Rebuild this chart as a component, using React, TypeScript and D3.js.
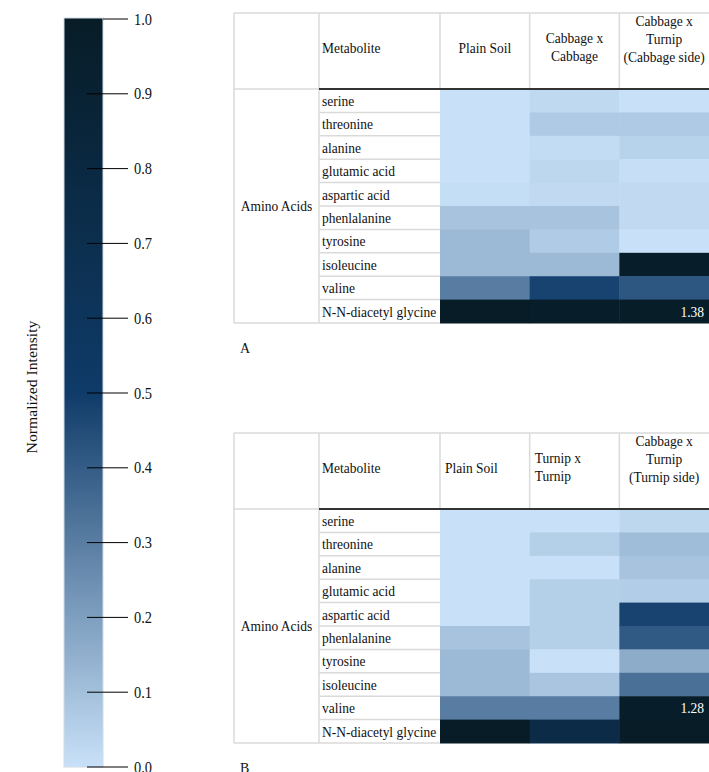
import React from 'react';
import * as d3 from 'd3';

// ---------- data ----------
const metabolites = [
  'serine', 'threonine', 'alanine', 'glutamic acid', 'aspartic acid',
  'phenlalanine', 'tyrosine', 'isoleucine', 'valine', 'N-N-diacetyl glycine',
];
const groupLabel = 'Amino Acids';
const metaboliteHeader = 'Metabolite';

const columnsA = ['Plain Soil', 'Cabbage x Cabbage', 'Cabbage x Turnip (Cabbage side)'];
const headerLinesA = [['Plain Soil'], ['Cabbage x', 'Cabbage'], ['Cabbage x', 'Turnip', '(Cabbage side)']];
const headerAlignA = ['middle', 'middle', 'middle'];
const plainSoilA = [0.0, 0.0, 0.0, 0.0, 0.01, 0.09, 0.12, 0.12, 0.30, 1.0];
const cabbageCabbageA = [0.025, 0.07, 0.015, 0.03, 0.02, 0.09, 0.065, 0.12, 0.475, 0.98];
const cabbageTurnipCabbageSideA = [0.0, 0.07, 0.045, 0.005, 0.02, 0.02, 0.0, 0.97, 0.42, 0.99];
const annotationsA = [{ col: 2, row: 9, text: '1.38' }];

const columnsB = ['Plain Soil', 'Turnip x Turnip', 'Cabbage x Turnip (Turnip side)'];
const headerLinesB = [['Plain Soil'], ['Turnip x', 'Turnip'], ['Cabbage x', 'Turnip', '(Turnip side)']];
const headerAlignB = ['start', 'start', 'middle'];
const plainSoilB = [0.0, 0.0, 0.0, 0.0, 0.0, 0.09, 0.12, 0.12, 0.30, 1.0];
const turnipTurnipB = [0.0, 0.055, 0.0, 0.055, 0.055, 0.055, 0.0, 0.085, 0.30, 0.76];
const cabbageTurnipTurnipSideB = [0.03, 0.11, 0.09, 0.06, 0.475, 0.41, 0.16, 0.34, 0.97, 1.0];
const annotationsB = [{ col: 2, row: 8, text: '1.28' }];

const colorTicks = [0, 0.1, 0.2, 0.3, 0.4, 0.5, 0.6, 0.7, 0.8, 0.9, 1.0];
const colorbarTitle = 'Normalized Intensity';

// ---------- styles ----------
const FONT = '"Liberation Serif", "Times New Roman", serif';
const GRID = '#dadada';
const TEXT = '#111';
const SX = 0.9;

const color = d3
  .scaleLinear<string>()
  .domain([0, 0.5, 1])
  .range(['#c8e1f8', '#0f3b69', '#071c26'])
  .interpolate(d3.interpolateRgb)
  .clamp(true);

type Ann = { col: number; row: number; text: string };

function T(props: { x: number; y: number; anchor?: string; fill?: string; fs?: number; children: React.ReactNode }) {
  const { x, y, anchor = 'start', fill = TEXT, fs = 15, children } = props;
  return (
    <text
      transform={`translate(${x},${y}) scale(${SX},1)`}
      textAnchor={anchor}
      dy="0.35em"
      fill={fill}
      fontSize={fs}
    >
      {children}
    </text>
  );
}

function HeatTable(props: {
  top: number;
  columns: string[];
  headerLines: string[][];
  headerAlign: string[];
  values: number[][];
  annotations: Ann[];
  label: string;
}) {
  const { top, columns, headerLines, headerAlign, values, annotations, label } = props;
  const left = 234;
  const groupRight = 319;
  const heatLeft = 440;
  const heatRight = 709;
  const headerBottom = top + 76;
  const bottom = top + 310;

  const x = d3.scaleBand<string>().domain(columns).range([heatLeft, heatRight]);
  const y = d3.scaleBand<string>().domain(metabolites).range([headerBottom, bottom]);

  return (
    <g fontFamily={FONT}>
      {/* heat cells */}
      {columns.map((c, ci) =>
        metabolites.map((m, ri) => (
          <rect
            key={c + m}
            x={x(c)!}
            y={y(m)!}
            width={x.bandwidth() + (ci === columns.length - 1 ? 4 : 0.5)}
            height={y.bandwidth() + 0.5}
            fill={color(values[ci][ri])}
          />
        ))
      )}
      {/* grid */}
      <line x1={left} x2={heatRight + 2} y1={top} y2={top} stroke={GRID} strokeWidth={1.5} />
      <line x1={left} x2={left} y1={top} y2={bottom} stroke={GRID} strokeWidth={1.5} />
      <line x1={groupRight} x2={groupRight} y1={top} y2={bottom} stroke={GRID} strokeWidth={1.5} />
      <line x1={heatLeft} x2={heatLeft} y1={top} y2={headerBottom} stroke={GRID} strokeWidth={1.5} />
      {columns.slice(1).map((c) => (
        <line key={c} x1={x(c)!} x2={x(c)!} y1={top} y2={headerBottom} stroke={GRID} strokeWidth={1.5} />
      ))}
      <line x1={left} x2={groupRight} y1={headerBottom} y2={headerBottom} stroke={GRID} strokeWidth={1.5} />
      <line x1={left} x2={heatLeft} y1={bottom} y2={bottom} stroke={GRID} strokeWidth={1.5} />
      {metabolites.slice(1).map((m) => (
        <line key={m} x1={groupRight} x2={heatLeft} y1={y(m)!} y2={y(m)!} stroke={GRID} strokeWidth={1.5} />
      ))}
      <line x1={groupRight} x2={heatRight + 2} y1={headerBottom} y2={headerBottom} stroke="#333" strokeWidth={2} />

      {/* header text */}
      <T x={groupRight + 3} y={top + 35}>{metaboliteHeader}</T>
      {columns.map((c, ci) => {
        const lines = headerLines[ci];
        const anchor = headerAlign[ci];
        const tx = anchor === 'middle' ? x(c)! + x.bandwidth() / 2 : x(c)! + 5;
        const startY = lines.length === 1 ? top + 35 : lines.length === 2 ? top + 25 : top + 8;
        return (
          <g key={c}>
            {lines.map((ln, li) => (
              <T key={li} x={tx} y={startY + li * 18} anchor={anchor}>
                {ln}
              </T>
            ))}
          </g>
        );
      })}

      {/* row labels */}
      <T x={(left + groupRight) / 2} y={(headerBottom + bottom) / 2} anchor="middle">
        {groupLabel}
      </T>
      {metabolites.map((m) => (
        <T key={m} x={groupRight + 3} y={y(m)! + y.bandwidth() / 2}>
          {m}
        </T>
      ))}

      {/* annotations */}
      {annotations.map((a) => (
        <T
          key={a.text}
          x={x(columns[a.col])! + x.bandwidth() - 5}
          y={y(metabolites[a.row])! + y.bandwidth() / 2}
          anchor="end"
          fill="#fff"
        >
          {a.text}
        </T>
      ))}

      <T x={left + 6} y={bottom + 25} fs={15.5}>
        {label}
      </T>
    </g>
  );
}

function ColorBar() {
  const barX = 64;
  const barW = 39;
  const yScale = d3.scaleLinear().domain([0, 1]).range([767, 19]);
  const stops = d3.range(0, 1.0001, 0.05);
  return (
    <g fontFamily={FONT} fill={TEXT}>
      <defs>
        <linearGradient id="cbGrad" x1="0" y1="1" x2="0" y2="0">
          {stops.map((s) => (
            <stop key={s} offset={`${s * 100}%`} stopColor={color(s)} />
          ))}
        </linearGradient>
      </defs>
      <rect
        x={barX}
        y={yScale(1) - 1}
        width={barW}
        height={yScale(0) - yScale(1) + 1}
        fill="url(#cbGrad)"
        stroke="#cfdbe6"
        strokeWidth={1}
      />
      {colorTicks.map((t) => (
        <g key={t}>
          <line x1={t === 1 ? barX + barW : 87} x2={128} y1={yScale(t)} y2={yScale(t)} stroke="#000" strokeWidth={1} />
          <T x={134} y={yScale(t)} fs={16}>
            {t.toFixed(1)}
          </T>
        </g>
      ))}
      <text
        transform={`translate(32, 387) rotate(-90) scale(1,${SX})`}
        textAnchor="middle"
        dy="0.35em"
        fontSize={15.7}
        fill={TEXT}
      >
        {colorbarTitle}
      </text>
    </g>
  );
}

export default function App() {
  return (
    <svg
      width={709}
      height={772}
      style={{ position: 'absolute', left: 0, top: 0, background: '#fff' }}
    >
      <rect width={709} height={772} fill="#fff" />
      <ColorBar />
      <HeatTable
        top={13}
        columns={columnsA}
        headerLines={headerLinesA}
        headerAlign={headerAlignA}
        values={[plainSoilA, cabbageCabbageA, cabbageTurnipCabbageSideA]}
        annotations={annotationsA}
        label="A"
      />
      <HeatTable
        top={433}
        columns={columnsB}
        headerLines={headerLinesB}
        headerAlign={headerAlignB}
        values={[plainSoilB, turnipTurnipB, cabbageTurnipTurnipSideB]}
        annotations={annotationsB}
        label="B"
      />
    </svg>
  );
}
